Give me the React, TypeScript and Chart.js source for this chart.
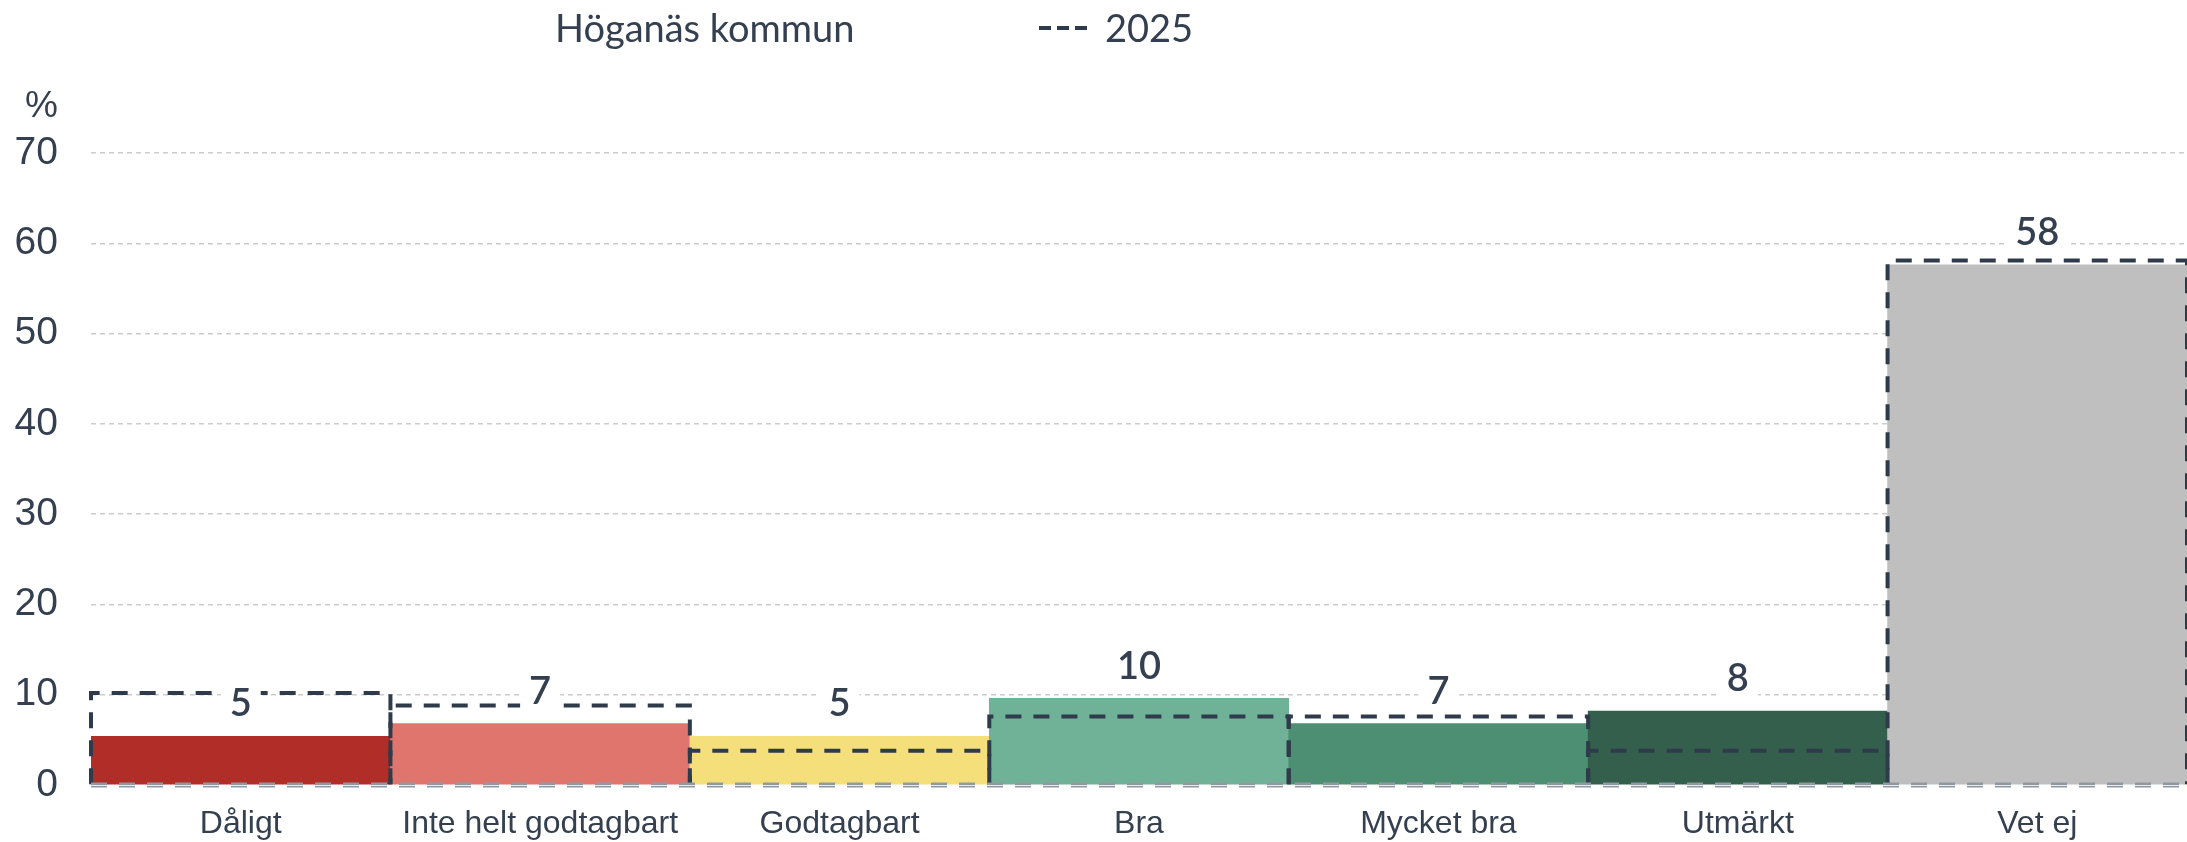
import React, { useEffect, useRef } from 'react';
import { Chart, registerables } from 'chart.js';

Chart.register(...registerables);

// ---- data ----
const categories = ['Dåligt', 'Inte helt godtagbart', 'Godtagbart', 'Bra', 'Mycket bra', 'Utmärkt', 'Vet ej'];
const seriesMainName = 'Höganäs kommun';
const seriesMainValues = [5.4, 6.8, 5.4, 9.6, 6.8, 8.2, 57.6];
const seriesDashName = '2025';
const seriesDashValues = [10.2, 8.8, 3.8, 7.6, 7.6, 3.8, 58.1];
const barColors = ['#b02e27', '#e0756d', '#f5df7a', '#70b297', '#4c8f72', '#335f4c', '#bfbfbf'];
const yTickValues = [0, 10, 20, 30, 40, 50, 60, 70];
const yUnit = '%';

const TEXT = '#34404f';
const DASH = '#2f3b4a';

const overlayPlugin = {
  id: 'overlayPlugin',
  afterDatasetsDraw(chart: any) {
    const ctx = chart.ctx;
    const area = chart.chartArea;
    ctx.save();
    // dashed outlines of 2025 series
    const meta1 = chart.getDatasetMeta(1);
    ctx.strokeStyle = DASH;
    ctx.lineWidth = 4;
    ctx.setLineDash([16, 12]);
    meta1.data.forEach((el: any) => {
      const p = el.getProps(['x', 'y', 'base', 'width'], true);
      const l = p.x - p.width / 2;
      const r = p.x + p.width / 2;
      ctx.beginPath();
      ctx.moveTo(l, p.base);
      ctx.lineTo(l, p.y);
      ctx.lineTo(r, p.y);
      ctx.lineTo(r, p.base);
      ctx.stroke();
    });
    // baseline
    ctx.strokeStyle = '#8f99a4';
    ctx.lineWidth = 5;
    ctx.beginPath();
    ctx.moveTo(area.left, area.bottom);
    ctx.lineTo(area.right, area.bottom);
    ctx.stroke();
    ctx.setLineDash([]);
    ctx.strokeStyle = 'rgba(255,255,255,0.8)';
    ctx.lineWidth = 1;
    ctx.beginPath();
    ctx.moveTo(area.left, area.bottom + 0.5);
    ctx.lineTo(area.right, area.bottom + 0.5);
    ctx.stroke();

    // value labels
    const meta0 = chart.getDatasetMeta(0);
    ctx.font = '600 38px Lato';
    ctx.textAlign = 'center';
    ctx.textBaseline = 'middle';
    meta0.data.forEach((el: any, i: number) => {
      const txt = String(Math.round(seriesMainValues[i]));
      const w = ctx.measureText(txt).width + 18;
      const cy = el.y - 33;
      ctx.fillStyle = '#ffffff';
      ctx.fillRect(el.x - w / 2, cy - 19, w, 38);
      ctx.fillStyle = TEXT;
      ctx.fillText(txt, el.x, cy + 1);
    });
    ctx.restore();
  },
};

function BarChart() {
  const ref = useRef<HTMLCanvasElement | null>(null);
  useEffect(() => {
    document.body.style.margin = '0';
    const canvas = ref.current;
    if (!canvas) return;
    const chart = new Chart(canvas, {
      type: 'bar',
      data: {
        labels: categories,
        datasets: [
          {
            label: seriesMainName,
            data: seriesMainValues,
            backgroundColor: barColors,
            borderWidth: 0,
            grouped: false,
            categoryPercentage: 1,
            barPercentage: 1,
          },
          {
            label: seriesDashName,
            data: seriesDashValues,
            backgroundColor: 'rgba(0,0,0,0)',
            borderWidth: 0,
            grouped: false,
            categoryPercentage: 1,
            barPercentage: 1,
          },
        ],
      },
      options: {
        animation: false,
        responsive: false,
        maintainAspectRatio: false,
        layout: { padding: { top: 153, left: 0, right: 0, bottom: 0 } },
        plugins: {
          legend: { display: false },
          tooltip: { enabled: false },
        },
        scales: {
          x: {
            grid: { display: false, drawTicks: false },
            border: { display: false },
            ticks: {
              color: TEXT,
              font: { family: 'Liberation Sans', size: 32 },
              padding: 20,
              maxRotation: 0,
              autoSkip: false,
            },
            afterFit: (s: any) => {
              s.height = 57;
            },
          },
          y: {
            min: 0,
            max: 70,
            afterBuildTicks: (s: any) => {
              s.ticks = yTickValues.map((v) => ({ value: v }));
            },
            ticks: {
              color: TEXT,
              font: { family: 'Liberation Sans', size: 39 },
              padding: 33,
            },
            grid: {
              color: (c: any) => (c.tick && c.tick.value === 0 ? 'rgba(0,0,0,0)' : '#cccccc'),
              lineWidth: 1.5,
              drawTicks: false,
            },
            border: { display: false, dash: [5, 4] },
            afterFit: (s: any) => {
              s.width = 91;
            },
          },
        },
      },
      plugins: [overlayPlugin],
    });
    return () => chart.destroy();
  }, []);
  return <canvas ref={ref} width={2187} height={842} style={{ position: 'absolute', left: 0, top: 0, width: 2187, height: 842 }} />;
}

export default function App() {
  const legendText: React.CSSProperties = {
    position: 'absolute',
    fontFamily: 'Lato',
    fontSize: 38,
    lineHeight: '38px',
    color: TEXT,
    whiteSpace: 'nowrap',
    top: 8,
  };
  return (
    <div style={{ position: 'relative', width: 2187, height: 842, overflow: 'hidden', background: '#fff' }}>
      <BarChart />
      <div style={{ ...legendText, left: 555 }}>{seriesMainName}</div>
      <svg style={{ position: 'absolute', left: 1036, top: 20, width: 56, height: 16 }}>
        <line x1={3} y1={8} x2={53} y2={8} stroke={DASH} strokeWidth={4} strokeDasharray="12 6" />
      </svg>
      <div style={{ ...legendText, left: 1105 }}>{seriesDashName}</div>
      <div
        style={{
          position: 'absolute',
          left: 25,
          top: 86,
          fontFamily: 'Liberation Sans',
          fontSize: 37,
          lineHeight: '37px',
          color: TEXT,
        }}
      >
        {yUnit}
      </div>
    </div>
  );
}
